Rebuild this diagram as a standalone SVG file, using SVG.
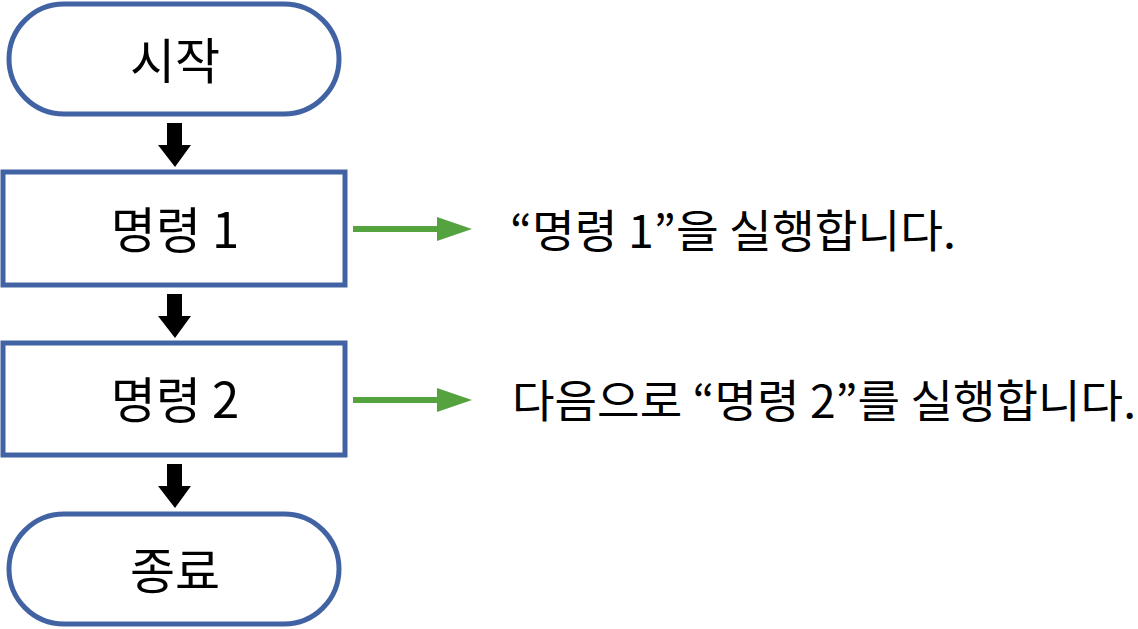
<svg xmlns="http://www.w3.org/2000/svg" width="1138" height="629" viewBox="0 0 1138 629">
<defs>
<style>
.shape{fill:#fff;stroke:#4163A3;stroke-width:5}
.lbl{font-family:"Noto Sans CJK KR","Noto Sans",sans-serif;font-size:49px;fill:#000;text-anchor:middle}
.note{font-family:"Noto Sans CJK KR","Noto Sans",sans-serif;font-size:45px;fill:#000}
.flow{fill:#000}
.side{stroke:#55A33F;stroke-width:6;fill:none}
.sidehead{fill:#55A33F}
</style>
</defs>
<g id="start">
<rect class="shape" x="9" y="4" width="330" height="110" rx="55" ry="55"/>
<text class="lbl" x="175" y="79">시작</text>
</g>
<g id="cmd1">
<rect class="shape" x="3" y="172" width="342" height="113"/>
<text class="lbl" x="175" y="248">명령 1</text>
</g>
<g id="cmd2">
<rect class="shape" x="3" y="343" width="342" height="112"/>
<text class="lbl" x="175" y="418">명령 2</text>
</g>
<g id="end">
<rect class="shape" x="9" y="514" width="330" height="110" rx="55" ry="55"/>
<text class="lbl" x="175" y="589">종료</text>
</g>
<g id="note1">
<text class="note" x="510" y="248" textLength="446" lengthAdjust="spacingAndGlyphs">“명령 1”을 실행합니다.</text>
</g>
<g id="note2">
<text class="note" x="512" y="418" textLength="624" lengthAdjust="spacingAndGlyphs">다음으로 “명령 2”를 실행합니다.</text>
</g>
<g id="connectors">
<polygon class="flow" points="167,123 182,123 182,145 191,145 175,167 158,145 167,145"/>
<polygon class="flow" points="167,294 182,294 182,316 191,316 175,338 158,316 167,316"/>
<polygon class="flow" points="167,464 182,464 182,486 191,486 175,508 158,486 167,486"/>
<line class="side" x1="353" y1="229" x2="440" y2="229"/>
<polygon class="sidehead" points="437,217 472,229 437,241"/>
<line class="side" x1="353" y1="400" x2="440" y2="400"/>
<polygon class="sidehead" points="437,388 472,400 437,412"/>
</g>
</svg>
